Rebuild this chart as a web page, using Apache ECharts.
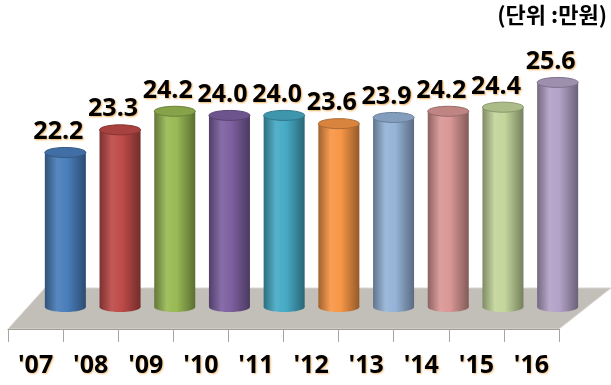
<!DOCTYPE html>
<html>
<head>
<meta charset="utf-8">
<script src="https://cdn.jsdelivr.net/npm/echarts@6/dist/echarts.min.js"></script>
<style>
  html, body { margin: 0; padding: 0; background: #fff; }
  #chart { width: 611px; height: 385px; }
</style>
</head>
<body>
<div id="chart"></div>
<script>
const years = ["'07", "'08", "'09", "'10", "'11", "'12", "'13", "'14", "'15", "'16"];
const wages = [22.2, 23.3, 24.2, 24.0, 24.0, 23.6, 23.9, 24.2, 24.4, 25.6];
const unitLabel = '(단위 :만원)';

// office-style palette, one per bar
const barColors = ['#4a7ebb', '#be4b48', '#98b954', '#7d60a0', '#46aac5',
                   '#f79646', '#95b3d7', '#d99795', '#c3d69b', '#b3a2c7'];

const yMin = 14.7;

const chart = echarts.init(document.getElementById('chart'));

function shade(hex, amt) {
  const n = parseInt(hex.slice(1), 16);
  let r = n >> 16, g = (n >> 8) & 255, b = n & 255;
  const f = v => Math.max(0, Math.min(255, Math.round(amt < 0 ? v * (1 + amt) : v + (255 - v) * amt)));
  return 'rgb(' + f(r) + ',' + f(g) + ',' + f(b) + ')';
}

function cylinder(params, api) {
  const i = params.dataIndex;
  const top = api.coord([api.value(0), api.value(1)]);
  const base = api.coord([api.value(0), yMin]);
  const w = api.size([1, 0])[0] * 0.75;
  const rx = w / 2, ry = 5;
  const c = barColors[i];
  const bodyFill = new echarts.graphic.LinearGradient(0, 0, 1, 0, [
    { offset: 0, color: shade(c, -0.35) },
    { offset: 0.3, color: shade(c, 0.08) },
    { offset: 0.55, color: c },
    { offset: 1, color: shade(c, -0.4) }
  ]);
  return {
    type: 'group',
    children: [
      { type: 'ellipse', shape: { cx: top[0], cy: base[1], rx: rx, ry: ry }, style: { fill: bodyFill } },
      { type: 'rect', shape: { x: top[0] - rx, y: top[1], width: w, height: base[1] - top[1] }, style: { fill: bodyFill } },
      { type: 'ellipse', shape: { cx: top[0], cy: top[1], rx: rx, ry: ry },
        style: { fill: shade(c, -0.12), stroke: shade(c, -0.3), lineWidth: 1 } },
      { type: 'text', x: top[0] - 7, y: top[1] - 8,
        style: {
          text: api.value(1).toFixed(1), align: 'center', verticalAlign: 'bottom',
          font: 'bold 25px "Open Sans"', fill: '#000',
          textShadowColor: 'rgba(235,150,40,0.75)', textShadowBlur: 2,
          textShadowOffsetX: 1, textShadowOffsetY: 1
        } }
    ]
  };
}

const option = {
  animation: false,
  grid: [
    { left: 8, right: 52, top: 33, bottom: 56 },
    { left: 38, right: 26, top: 33, bottom: 78 }
  ],
  xAxis: [
    {
      type: 'category', gridIndex: 0, data: years,
      axisLine: { lineStyle: { color: '#a19e98', width: 1 } },
      axisTick: { show: true, length: 13, lineStyle: { color: '#a6a6a6' } },
      axisLabel: {
        margin: 24, color: '#000', fontWeight: 'bold', fontSize: 25, fontFamily: 'Open Sans',
        textShadowColor: 'rgba(235,150,40,0.6)', textShadowBlur: 2,
        textShadowOffsetX: 1, textShadowOffsetY: 1
      }
    },
    { type: 'category', gridIndex: 1, data: years, show: false }
  ],
  yAxis: [
    { type: 'value', gridIndex: 0, show: false },
    { type: 'value', gridIndex: 1, min: yMin, max: 28, show: false }
  ],
  graphic: [
    {
      type: 'polygon', z: 0,
      shape: { points: [[8, 329], [45, 288], [611, 288], [559, 329]] },
      style: { fill: '#c2bfb8', stroke: '#d8d6d1', lineWidth: 1 }
    },
    {
      type: 'text', right: 4, top: 4, z: 10,
      style: { text: unitLabel, font: 'bold 22px "Noto Sans CJK KR"', fill: '#000' }
    }
  ],
  series: [
    {
      type: 'custom', xAxisIndex: 1, yAxisIndex: 1, z: 5,
      renderItem: cylinder,
      data: years.map((y, i) => [i, wages[i]])
    }
  ]
};

chart.setOption(option);
</script>
</body>
</html>
